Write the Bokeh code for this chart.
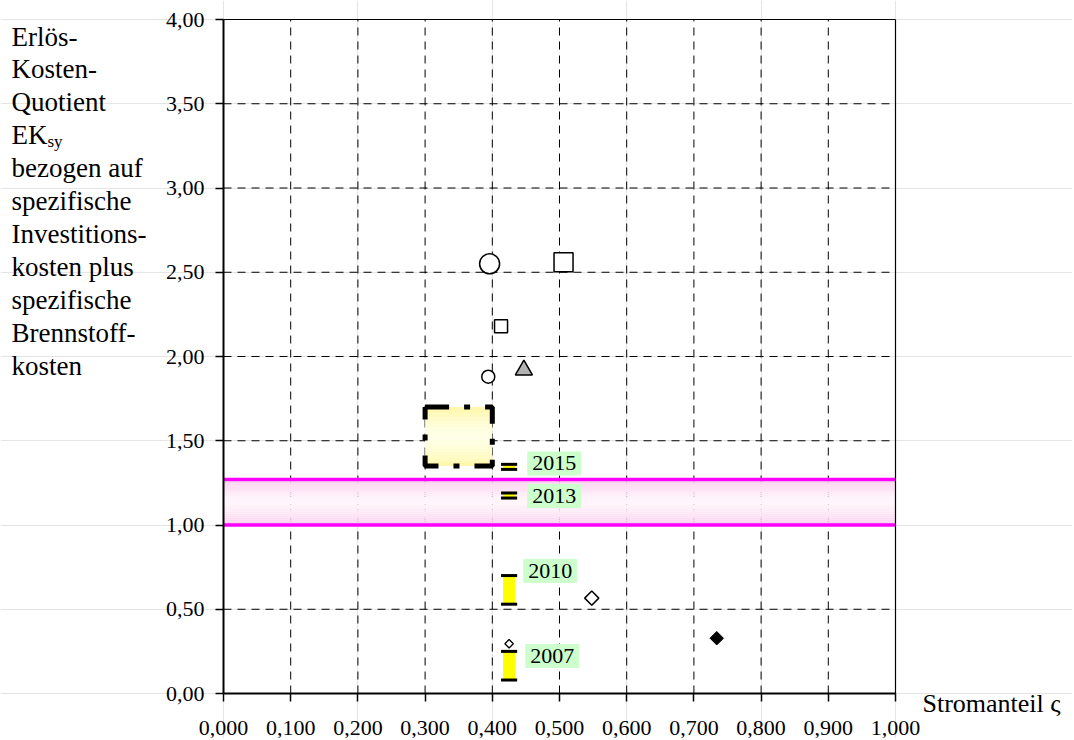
import numpy as np
from bokeh.plotting import figure
from bokeh.models import Range1d, FixedTicker, CustomJSTickFormatter, Label, LinearAxis
from bokeh.core.properties import value
from bokeh.embed import file_html
from bokeh.resources import INLINE

# ---------------- data ----------------
x_ticks = [0.0, 0.1, 0.2, 0.3, 0.4, 0.5, 0.6, 0.7, 0.8, 0.9, 1.0]
x_tick_labels = ["0,000", "0,100", "0,200", "0,300", "0,400", "0,500",
                 "0,600", "0,700", "0,800", "0,900", "1,000"]
y_ticks = [0.0, 0.5, 1.0, 1.5, 2.0, 2.5, 3.0, 3.5, 4.0]
y_tick_labels = ["0,00", "0,50", "1,00", "1,50", "2,00", "2,50", "3,00", "3,50", "4,00"]

years = ["2007", "2010", "2013", "2015"]
year_share = [0.425, 0.425, 0.425, 0.425]
year_low = [0.08, 0.53, 1.16, 1.33]
year_high = [0.25, 0.70, 1.19, 1.36]

band_low = 1.00
band_high = 1.27

box_share = [0.30, 0.40]
box_ek = [1.35, 1.70]

big_circle_x = [0.396]
big_circle_y = [2.55]
big_square_x = [0.506]
big_square_y = [2.56]
small_square_x = [0.413]
small_square_y = [2.18]
small_circle_x = [0.394]
small_circle_y = [1.88]
triangle_x = [0.447]
triangle_y = [1.92]
open_diamond_x = [0.548]
open_diamond_y = [0.566]
tiny_diamond_x = [0.425]
tiny_diamond_y = [0.295]
black_diamond_x = [0.734]
black_diamond_y = [0.328]

y_title_lines = ["Erlös-", "Kosten-", "Quotient", "EK", "bezogen auf", "spezifische",
                 "Investitions-", "kosten plus", "spezifische", "Brennstoff-", "kosten"]
y_title_sub = "sy"
x_title = "Stromanteil ς"

# label anchor positions (annotation placement)
year_label_x = [0.449, 0.446, 0.452, 0.452]
year_label_y = [0.223, 0.727, 1.172, 1.365]

FONT = "Liberation Serif"
W, H = 1072, 738

# ---- page geometry: the axes box (0..1 x 0..4) sits at these pixels ----
PX_X0, PX_X1 = 223, 895
PX_Y0, PX_Y4 = 693, 19
sx = (PX_X1 - PX_X0) / (x_ticks[-1] - x_ticks[0])
sy = (PX_Y0 - PX_Y4) / (y_ticks[-1] - y_ticks[0])


def dx(px):
    return (px - PX_X0) / sx


def dy(py):
    return (PX_Y0 - py) / sy


p = figure(width=W, height=H, output_backend="svg", toolbar_location=None,
           x_range=Range1d(dx(0), dx(W)), y_range=Range1d(dy(H), dy(0)),
           x_axis_location=None, y_axis_location=None, min_border=0)
p.background_fill_color = "white"
p.border_fill_color = "white"
p.outline_line_color = None

# ---- dashed grid at tick positions ----
inner_x = x_ticks[1:-1]
inner_y = y_ticks[1:-1]
p.segment(x0=inner_x, x1=inner_x, y0=[y_ticks[0]] * len(inner_x), y1=[y_ticks[-1]] * len(inner_x),
          line_color="black", line_width=1, line_dash="8 6")
p.segment(x0=[x_ticks[0]] * len(inner_y), x1=[x_ticks[-1]] * len(inner_y), y0=inner_y, y1=inner_y,
          line_color="black", line_width=1, line_dash="8 6")


def mix(c1, c2, t):
    a = np.array([int(c1[i:i + 2], 16) for i in (1, 3, 5)], float)
    b = np.array([int(c2[i:i + 2], 16) for i in (1, 3, 5)], float)
    c = a + (b - a) * t
    return "#%02x%02x%02x" % tuple(int(round(v)) for v in c)


# ---- pink band with vertical gradient ----
N = 24
edges = np.linspace(band_low, band_high, N + 1)
cols = [mix("#fff5fb", "#fbcdee", abs((i + 0.5) / N * 2 - 1) ** 1.4) for i in range(N)]
p.quad(left=x_ticks[0], right=x_ticks[-1], bottom=edges[:-1], top=edges[1:],
       fill_color=cols, line_color=None)
p.segment(x0=[x_ticks[0]] * 2, x1=[x_ticks[-1]] * 2, y0=[band_low, band_high], y1=[band_low, band_high],
          line_color="#ff00ff", line_width=3.5)

# ---- yellow scenario box with gradient ----
M = 20
bedges = np.linspace(box_ek[0], box_ek[1], M + 1)
bcols = [mix("#ffffe6", "#fff8a8", abs((i + 0.5) / M * 2 - 1) ** 1.4) for i in range(M)]
p.quad(left=box_share[0], right=box_share[1], bottom=bedges[:-1], top=bedges[1:],
       fill_color=bcols, line_color=None)
p.line(x=[box_share[0], box_share[1], box_share[1], box_share[0], box_share[0]],
       y=[box_ek[1], box_ek[1], box_ek[0], box_ek[0], box_ek[1]],
       line_color="black", line_width=5, line_dash="24 15 6 15", line_cap="butt")

# ---- yearly ranges ----
p.vbar(x=year_share, width=0.018, bottom=year_low, top=year_high,
       fill_color="#ffff00", line_color=None)
cap_half = 0.012
p.segment(x0=[s - cap_half for s in year_share] * 2, x1=[s + cap_half for s in year_share] * 2,
          y0=year_low + year_high, y1=year_low + year_high, line_color="black", line_width=3)

for t, lx, ly in zip(years, year_label_x, year_label_y):
    p.add_layout(Label(x=lx, y=ly, text=t, text_font=FONT, text_font_size="22px",
                       text_color="black", text_baseline="middle", text_align="left",
                       background_fill_color="#ccffcc", padding=5))

# ---- markers ----
p.scatter(big_circle_x, big_circle_y, marker="circle", size=20, fill_color="white",
          line_color="black", line_width=1.5)
p.scatter(big_square_x, big_square_y, marker="square", size=19, fill_color="white",
          line_color="black", line_width=1.5)
p.scatter(small_square_x, small_square_y, marker="square", size=13, fill_color="white",
          line_color="black", line_width=1.5)
p.scatter(small_circle_x, small_circle_y, marker="circle", size=13, fill_color="white",
          line_color="black", line_width=1.5)
p.scatter(triangle_x, triangle_y, marker="triangle", size=17, fill_color="#b3b3b3",
          line_color="black", line_width=1.5)
p.scatter(open_diamond_x, open_diamond_y, marker="square", angle=np.pi / 4, size=10,
          fill_color="white", line_color="black", line_width=1.5)
p.scatter(tiny_diamond_x, tiny_diamond_y, marker="square", angle=np.pi / 4, size=6,
          fill_color="white", line_color="black", line_width=1.3)
p.scatter(black_diamond_x, black_diamond_y, marker="square", angle=np.pi / 4, size=9.5,
          fill_color="black", line_color="black", line_width=1)

# ---- top / right border of the axes box ----
p.segment(x0=[x_ticks[0], x_ticks[-1]], x1=[x_ticks[-1], x_ticks[-1]],
          y0=[y_ticks[-1], y_ticks[0]], y1=[y_ticks[-1], y_ticks[-1]],
          line_color="black", line_width=1.2)

# ---- axes (fixed at the origin of the data box) ----
fmt_code = """
const i = tick_vals.findIndex(t => Math.abs(t - tick) < 1e-9);
return i >= 0 ? tick_text[i] : "";
"""
xaxis = LinearAxis(fixed_location=y_ticks[0], bounds=(x_ticks[0], x_ticks[-1]),
                   ticker=FixedTicker(ticks=x_ticks),
                   formatter=CustomJSTickFormatter(args=dict(tick_vals=x_ticks, tick_text=x_tick_labels),
                                                   code=fmt_code))
yaxis = LinearAxis(fixed_location=x_ticks[0], bounds=(y_ticks[0], y_ticks[-1]),
                   ticker=FixedTicker(ticks=y_ticks),
                   formatter=CustomJSTickFormatter(args=dict(tick_vals=y_ticks, tick_text=y_tick_labels),
                                                   code=fmt_code))
for ax in (xaxis, yaxis):
    ax.axis_line_color = "black"
    ax.axis_line_width = 2
    ax.major_tick_line_color = "black"
    ax.major_tick_line_width = 1.5
    ax.major_tick_out = 8
    ax.major_tick_in = 0
    ax.minor_tick_line_color = None
    ax.major_label_text_font = FONT
    ax.major_label_text_font_size = "22px"
    ax.major_label_text_color = "black"
xaxis.major_label_standoff = 19
yaxis.major_label_standoff = 11
p.add_layout(xaxis, "below")
p.add_layout(yaxis, "left")

# ---- titles as text ----
first_baseline = 36
pitch = 32.9
title_x = [dx(11)] * len(y_title_lines)
title_y = [dy(first_baseline + pitch * i) for i in range(len(y_title_lines))]
p.text(x=title_x, y=title_y, text=y_title_lines, text_font=value(FONT),
       text_font_size=value("27px"), text_color="black", text_baseline="alphabetic",
       text_align="left")
ek_i = y_title_lines.index("EK")
p.text(x=[dx(11 + 36)], y=[dy(first_baseline + pitch * ek_i + 6)], text=[y_title_sub],
       text_font=value(FONT), text_font_size=value("17px"), text_color="black",
       text_baseline="alphabetic", text_align="left")
p.text(x=[dx(922)], y=[dy(703)], text=[x_title], text_font=value(FONT),
       text_font_size=value("26px"), text_color="black", text_baseline="alphabetic",
       text_align="left")

open("out.html", "w").write(file_html(p, INLINE))
